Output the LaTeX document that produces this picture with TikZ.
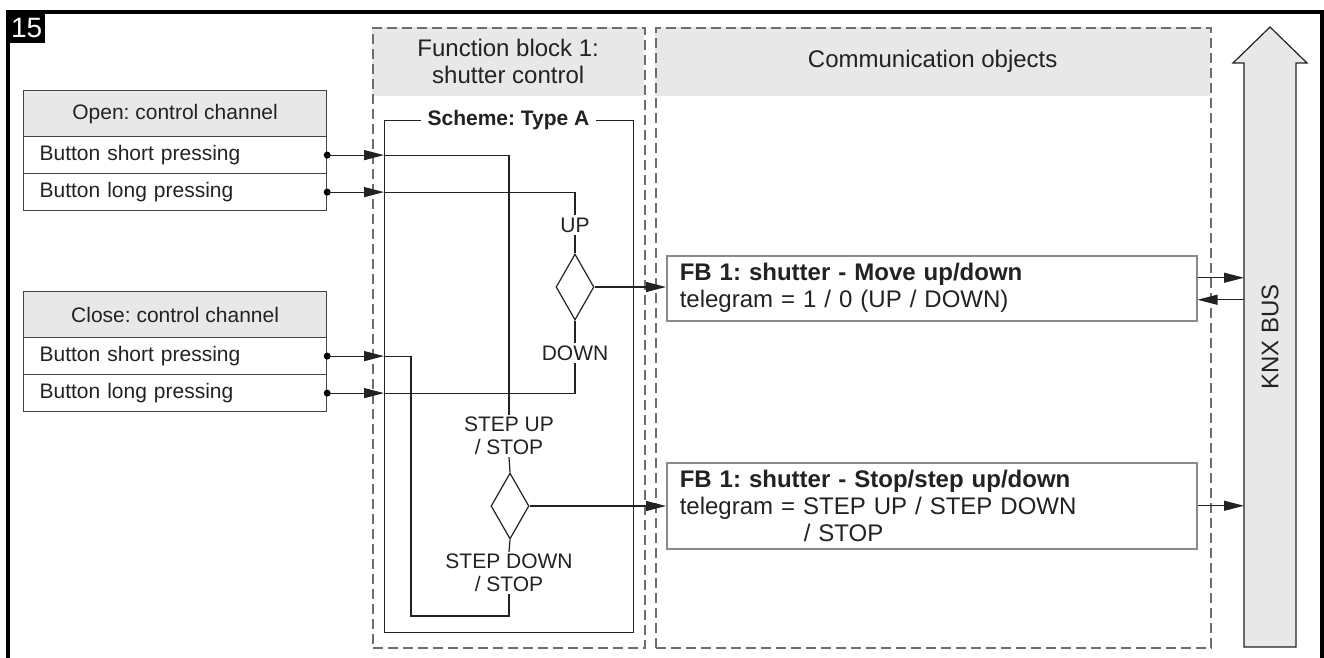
\documentclass[tikz,border=0pt]{standalone}
\usepackage{fontspec}
\setmainfont{Liberation Sans}
\usetikzlibrary{arrows.meta,shapes.geometric}
\definecolor{hdrgray}{HTML}{E8E8E8}
\definecolor{dashgray}{HTML}{6E6E6E}
\definecolor{linecol}{HTML}{222222}
\definecolor{boxline}{HTML}{444444}
\definecolor{fbborder}{HTML}{8A8A8A}
\pgfdeclarelayer{wires}
\pgfdeclarelayer{labels}
\pgfsetlayers{main,wires,labels}
\begin{document}
\frenchspacing
\begin{tikzpicture}[x=1pt,y=-1pt,
  fsA/.style={font=\fontsize{21}{23}\selectfont},
  fsB/.style={font=\fontsize{24}{27}\selectfont},
  thinln/.style={draw=linecol, line width=1.2pt},
  arr/.style={thinln, -{Triangle[length=20pt,width=10pt]}},
  dotnode/.style={circle, fill=black, inner sep=0pt, minimum size=7pt},
  colbox/.style={draw=dashgray, dash pattern=on 10pt off 5pt, line width=1.5pt, inner sep=0pt, anchor=north west},
  hdr/.style={fill=hdrgray, inner sep=0pt, anchor=north west, fsB, align=center, text=linecol},
  chhdr/.style={fill=hdrgray, draw=boxline, line width=1.2pt, inner sep=0pt, anchor=north west,
    minimum width=303pt, minimum height=46pt, fsA, text=linecol},
  chrow/.style={draw=boxline, line width=1.2pt, anchor=north west, inner xsep=16pt, inner ysep=0pt,
    text width=271pt, align=left, minimum height=37pt, fsA, text=linecol},
  lbl/.style={fill=white, fsA, align=center, inner xsep=2pt, inner ysep=2pt, text=linecol},
  dia/.style={diamond, draw=linecol, line width=1.2pt, inner sep=0pt, minimum width=38pt, minimum height=66pt},
  fbbox/.style={draw=fbborder, line width=1.5pt, fill=white, anchor=north west, inner xsep=13pt,
    text width=504pt, align=left, fsB, text=linecol}
]
\useasboundingbox (0,0) rectangle (1324,657);
% outer frame
\draw[line width=3.5pt] (8,670) -- (8,12) -- (1322,12) -- (1322,670);
\node[fill=black, text=white, font=\fontsize{28}{28}\selectfont, anchor=north west,
  minimum width=37pt, minimum height=31pt, inner sep=0pt] (num) at (8,12) {15};

% columns
\node[hdr, minimum width=272pt, minimum height=69pt] (fbhdr) at (372,27) {Function block 1:\\shutter control};
\node[colbox, minimum width=272pt, minimum height=620pt] (fbcol) at (372,27) {};
\node[hdr, minimum width=555pt, minimum height=69pt] (cohdr) at (655,27) {Communication objects};
\node[colbox, minimum width=555pt, minimum height=620pt] (cocol) at (655,27) {};

% scheme box
\node[draw=linecol, line width=1.2pt, minimum width=249pt, minimum height=512pt, anchor=north west, inner sep=0pt] (scheme) at (384,120) {};
\node[fill=white, font=\bfseries\fontsize{21}{24}\selectfont, inner xsep=7pt, inner ysep=1pt, text=linecol] (title) at (508.5,120) {Scheme: Type A};

% channel boxes
\node[chhdr] (openH) at (23,90) {Open: control channel};
\node[chrow] (openS) at (23,136) {Button short pressing};
\node[chrow] (openL) at (23,173) {Button long pressing};
\node[chhdr] (closeH) at (23,291) {Close: control channel};
\node[chrow] (closeS) at (23,337) {Button short pressing};
\node[chrow] (closeL) at (23,374) {Button long pressing};

% labels and diamonds
\begin{pgfonlayer}{labels}
\node[lbl] (up) at (575,225) {UP};
\node[dia, fill=white] (d1) at (575,287) {};
\node[lbl] (down) at (575,353) {DOWN};
\node[lbl] (stepup) at (509,436) {STEP UP\\/ STOP};
\node[dia, fill=white] (d2) at (510,506) {};
\node[lbl] (stepdown) at (509,573) {STEP DOWN\\/ STOP};
\end{pgfonlayer}
\coordinate (loopb) at (411,616);

% FB boxes
\node[fbbox, minimum height=65pt] (fb1) at (666,255) {\textbf{FB 1: shutter - Move up/down}\\telegram = 1 / 0 (UP / DOWN)};
\node[fbbox, minimum height=86pt] (fb2) at (666,462) {\textbf{FB 1: shutter - Stop/step up/down}\\telegram = STEP UP / STEP DOWN\\\hspace*{124pt}/ STOP};

% KNX bus
\draw[fill=hdrgray, draw=linecol, line width=1.2pt] (1244,647) -- (1244,63) -- (1233,63) -- (1270,27) -- (1307,63) -- (1296,63) -- (1296,647) -- cycle;
\node[minimum width=52pt, minimum height=584pt, inner sep=0pt, anchor=north west] (bus) at (1244,63) {};
\node[rotate=90, fsB, text=linecol] (knx) at (1270,337) {KNX BUS};

% dots
\node[dotnode] (dos) at (openS.east) {};
\node[dotnode] (dol) at (openL.east) {};
\node[dotnode] (dcs) at (closeS.east) {};
\node[dotnode] (dcl) at (closeL.east) {};

% inputs
\draw[arr] (openS.east) -- (openS.east -| scheme.west);
\draw[arr] (openL.east) -- (openL.east -| scheme.west);
\draw[arr] (closeS.east) -- (closeS.east -| scheme.west);
\draw[arr] (closeL.east) -- (closeL.east -| scheme.west);

% internal wiring
\begin{pgfonlayer}{wires}
\draw[thinln] (openS.east -| scheme.west) -| (stepup.north);
\draw[thinln] (openL.east -| scheme.west) -| (up.north);
\draw[thinln] (up.south) -- (d1.north);
\draw[thinln] (d1.south) -- (down.north);
\draw[thinln] (down.south) |- (closeL.east -| scheme.west);
\draw[thinln] (closeS.east -| scheme.west) -| (loopb) -| (stepdown.south);
\draw[thinln] (stepup.south) -- (d2.north);
\draw[thinln] (d2.south) -- (stepdown.north);
\end{pgfonlayer}

% outputs
\draw[arr] (d1.east) -- (d1.east -| fb1.west);
\draw[arr] (d2.east) -- (d2.east -| fb2.west);
\draw[arr] ([yshift=10.5pt]fb1.east) -- ([yshift=10.5pt]fb1.east -| bus.west);
\draw[arr] ([yshift=-11.5pt]fb1.east -| bus.west) -- ([yshift=-11.5pt]fb1.east);
\draw[arr] (fb2.east) -- (fb2.east -| bus.west);
\end{tikzpicture}
\end{document}
